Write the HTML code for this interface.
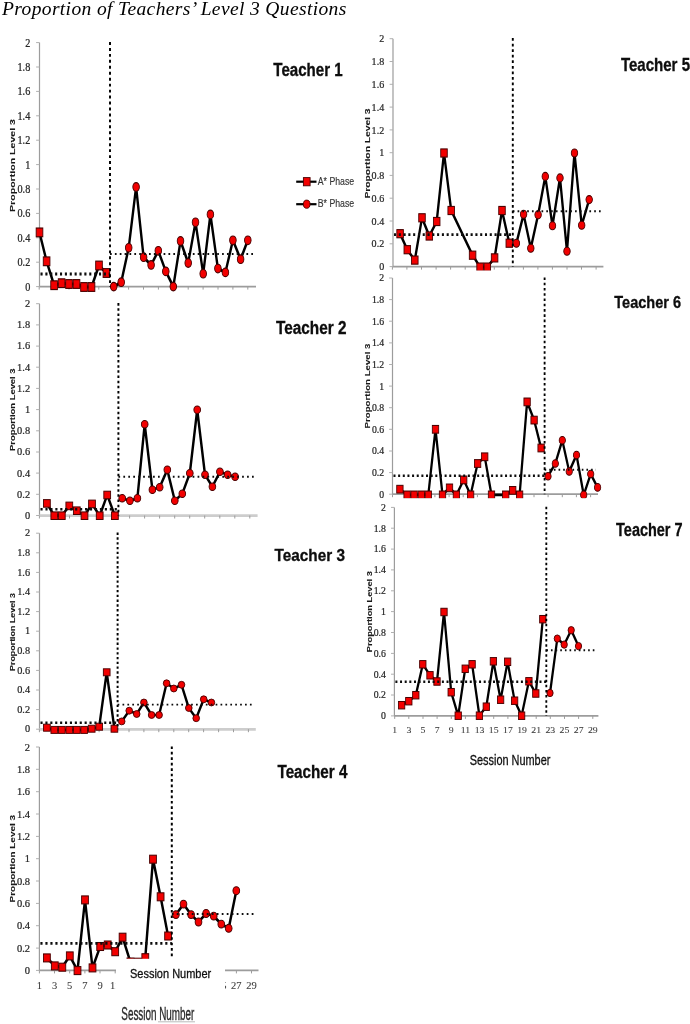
<!DOCTYPE html>
<html lang="en">
<head>
<meta charset="utf-8">
<title>Proportion of Teachers’ Level 3 Questions</title>
<style>
html,body{margin:0;padding:0;background:#fff;}
body{width:690px;height:1024px;overflow:hidden;position:relative;font-family:"Liberation Sans",sans-serif;}
h1{position:absolute;left:2px;top:-2.2px;margin:0;font:italic 19.5px "Liberation Serif",serif;color:#000;white-space:nowrap;letter-spacing:0.37px;}
svg{position:absolute;left:0;top:0;}
svg text{font-family:"Liberation Sans",sans-serif;}
svg text.tk{font-family:"Liberation Serif",serif;stroke:#262626;stroke-width:0.22;}
svg text.xk{font-family:"Liberation Serif",serif;stroke:#3c3c3c;stroke-width:0.1;}
.sn{stroke:#111;stroke-width:0.3;}
.sn2{stroke:#2a2a2a;stroke-width:0.35;}
svg text.yl{stroke:#1a1a1a;stroke-width:0.1;}
.dot{stroke:#111;stroke-width:2;stroke-dasharray:2 2.6;fill:none;}
.ln{stroke:#000;stroke-width:2.4;fill:none;stroke-linejoin:round;}
.dh{stroke:#0a0a0a;fill:none;stroke-width:2.3;stroke-dasharray:2.1 2.8;}
.dhb{stroke:#0a0a0a;fill:none;stroke-width:1.7;stroke-dasharray:1.7 3.2;}
.dv{stroke:#000;fill:none;stroke-width:1.95;stroke-dasharray:2.25 2.33;}
.mk{fill:#f20000;stroke:#4a0000;stroke-width:0.9;}
</style>
</head>
<body>
<h1>Proportion of Teachers’ Level 3 Questions</h1>
<svg width="690" height="1024" viewBox="0 0 690 1024">
<defs><filter id="b" x="-5%" y="-5%" width="110%" height="110%"><feGaussianBlur stdDeviation="0.5"/></filter></defs>
<g filter="url(#b)">
<g id="c1">
<line x1="39.5" y1="42.6" x2="39.5" y2="286.6" stroke="#9c9c9c" stroke-width="1.2"/>
<line x1="36.1" y1="42.6" x2="39.5" y2="42.6" stroke="#b0b0b0" stroke-width="1"/>
<text transform="translate(30.3,46.53) scale(0.994,1.130)" text-anchor="end" font-size="10.3" fill="#262626" class="tk">2</text>
<line x1="36.1" y1="67" x2="39.5" y2="67" stroke="#b0b0b0" stroke-width="1"/>
<text transform="translate(30.3,70.93) scale(0.994,1.130)" text-anchor="end" font-size="10.3" fill="#262626" class="tk">1.8</text>
<line x1="36.1" y1="91.4" x2="39.5" y2="91.4" stroke="#b0b0b0" stroke-width="1"/>
<text transform="translate(30.3,95.33) scale(0.994,1.130)" text-anchor="end" font-size="10.3" fill="#262626" class="tk">1.6</text>
<line x1="36.1" y1="115.8" x2="39.5" y2="115.8" stroke="#b0b0b0" stroke-width="1"/>
<text transform="translate(30.3,119.73) scale(0.994,1.130)" text-anchor="end" font-size="10.3" fill="#262626" class="tk">1.4</text>
<line x1="36.1" y1="140.2" x2="39.5" y2="140.2" stroke="#b0b0b0" stroke-width="1"/>
<text transform="translate(30.3,144.13) scale(0.994,1.130)" text-anchor="end" font-size="10.3" fill="#262626" class="tk">1.2</text>
<line x1="36.1" y1="164.6" x2="39.5" y2="164.6" stroke="#b0b0b0" stroke-width="1"/>
<text transform="translate(30.3,168.53) scale(0.994,1.130)" text-anchor="end" font-size="10.3" fill="#262626" class="tk">1</text>
<line x1="36.1" y1="189" x2="39.5" y2="189" stroke="#b0b0b0" stroke-width="1"/>
<text transform="translate(30.3,192.93) scale(0.994,1.130)" text-anchor="end" font-size="10.3" fill="#262626" class="tk">0.8</text>
<line x1="36.1" y1="213.4" x2="39.5" y2="213.4" stroke="#b0b0b0" stroke-width="1"/>
<text transform="translate(30.3,217.33) scale(0.994,1.130)" text-anchor="end" font-size="10.3" fill="#262626" class="tk">0.6</text>
<line x1="36.1" y1="237.8" x2="39.5" y2="237.8" stroke="#b0b0b0" stroke-width="1"/>
<text transform="translate(30.3,241.73) scale(0.994,1.130)" text-anchor="end" font-size="10.3" fill="#262626" class="tk">0.4</text>
<line x1="36.1" y1="262.2" x2="39.5" y2="262.2" stroke="#b0b0b0" stroke-width="1"/>
<text transform="translate(30.3,266.13) scale(0.994,1.130)" text-anchor="end" font-size="10.3" fill="#262626" class="tk">0.2</text>
<line x1="36.1" y1="286.6" x2="39.5" y2="286.6" stroke="#b0b0b0" stroke-width="1"/>
<text transform="translate(30.3,290.53) scale(0.994,1.130)" text-anchor="end" font-size="10.3" fill="#262626" class="tk">0</text>
<line x1="39.5" y1="286.6" x2="256" y2="286.6" stroke="#9c9c9c" stroke-width="1.7"/>
<line x1="39.2" y1="286.6" x2="39.2" y2="289.6" stroke="#9c9c9c" stroke-width="1"/>
<line x1="54.1" y1="286.6" x2="54.1" y2="289.6" stroke="#9c9c9c" stroke-width="1"/>
<line x1="69" y1="286.6" x2="69" y2="289.6" stroke="#9c9c9c" stroke-width="1"/>
<line x1="83.9" y1="286.6" x2="83.9" y2="289.6" stroke="#9c9c9c" stroke-width="1"/>
<line x1="98.8" y1="286.6" x2="98.8" y2="289.6" stroke="#9c9c9c" stroke-width="1"/>
<line x1="113.7" y1="286.6" x2="113.7" y2="289.6" stroke="#9c9c9c" stroke-width="1"/>
<line x1="128.6" y1="286.6" x2="128.6" y2="289.6" stroke="#9c9c9c" stroke-width="1"/>
<line x1="143.5" y1="286.6" x2="143.5" y2="289.6" stroke="#9c9c9c" stroke-width="1"/>
<line x1="158.4" y1="286.6" x2="158.4" y2="289.6" stroke="#9c9c9c" stroke-width="1"/>
<line x1="173.3" y1="286.6" x2="173.3" y2="289.6" stroke="#9c9c9c" stroke-width="1"/>
<line x1="188.2" y1="286.6" x2="188.2" y2="289.6" stroke="#9c9c9c" stroke-width="1"/>
<line x1="203.1" y1="286.6" x2="203.1" y2="289.6" stroke="#9c9c9c" stroke-width="1"/>
<line x1="218" y1="286.6" x2="218" y2="289.6" stroke="#9c9c9c" stroke-width="1"/>
<line x1="232.9" y1="286.6" x2="232.9" y2="289.6" stroke="#9c9c9c" stroke-width="1"/>
<line x1="247.8" y1="286.6" x2="247.8" y2="289.6" stroke="#9c9c9c" stroke-width="1"/>
<text transform="translate(15.3,165.5) rotate(-90) scale(1.000,0.994)" text-anchor="middle" font-size="7.8" font-weight="bold" fill="#1a1a1a" textLength="93" lengthAdjust="spacingAndGlyphs" class="yl">Proportion Level 3</text>
<g transform="translate(39.5,286.6) scale(0.9945,1.3000)">
<polyline points="0,-41.69 7.14,-19.46 14.68,-1.08 22.22,-2.62 29.66,-2 37.21,-2 44.75,0.31 52.29,0.31 59.83,-16.23 67.27,-10.46" class="ln"/>
<polyline points="74.61,0 82.16,-3.38 89.7,-29.85 97.14,-76.62 104.68,-22.62 112.22,-16.62 119.46,-27.54 127,-11.69 134.55,0 141.79,-35.08 149.53,-18.15 156.87,-49.46 164.61,-9.92 171.85,-55.54 179.39,-13.92 186.94,-10.92 194.48,-35.62 202.22,-21.08 209.46,-35.62" class="ln"/>
<rect x="-3.35" y="-45.04" width="6.7" height="6.7" class="mk"/>
<rect x="3.79" y="-22.81" width="6.7" height="6.7" class="mk"/>
<rect x="11.33" y="-4.43" width="6.7" height="6.7" class="mk"/>
<rect x="18.87" y="-5.97" width="6.7" height="6.7" class="mk"/>
<rect x="26.31" y="-5.35" width="6.7" height="6.7" class="mk"/>
<rect x="33.86" y="-5.35" width="6.7" height="6.7" class="mk"/>
<rect x="41.4" y="-3.04" width="6.7" height="6.7" class="mk"/>
<rect x="48.94" y="-3.04" width="6.7" height="6.7" class="mk"/>
<rect x="56.48" y="-19.58" width="6.7" height="6.7" class="mk"/>
<rect x="63.92" y="-13.81" width="6.7" height="6.7" class="mk"/>
<circle cx="74.61" cy="0" r="3.3" class="mk"/>
<circle cx="82.16" cy="-3.38" r="3.3" class="mk"/>
<circle cx="89.7" cy="-29.85" r="3.3" class="mk"/>
<circle cx="97.14" cy="-76.62" r="3.3" class="mk"/>
<circle cx="104.68" cy="-22.62" r="3.3" class="mk"/>
<circle cx="112.22" cy="-16.62" r="3.3" class="mk"/>
<circle cx="119.46" cy="-27.54" r="3.3" class="mk"/>
<circle cx="127" cy="-11.69" r="3.3" class="mk"/>
<circle cx="134.55" cy="0" r="3.3" class="mk"/>
<circle cx="141.79" cy="-35.08" r="3.3" class="mk"/>
<circle cx="149.53" cy="-18.15" r="3.3" class="mk"/>
<circle cx="156.87" cy="-49.46" r="3.3" class="mk"/>
<circle cx="164.61" cy="-9.92" r="3.3" class="mk"/>
<circle cx="171.85" cy="-55.54" r="3.3" class="mk"/>
<circle cx="179.39" cy="-13.92" r="3.3" class="mk"/>
<circle cx="186.94" cy="-10.92" r="3.3" class="mk"/>
<circle cx="194.48" cy="-35.62" r="3.3" class="mk"/>
<circle cx="202.22" cy="-21.08" r="3.3" class="mk"/>
<circle cx="209.46" cy="-35.62" r="3.3" class="mk"/>
<line x1="1.01" y1="-9.69" x2="70.89" y2="-9.69" class="dh"/>
<line x1="70.89" y1="-25.08" x2="217.71" y2="-25.08" class="dhb"/>
<line x1="70.89" y1="-188.15" x2="70.89" y2="0" class="dv"/>
</g>
</g>
<g id="c2">
<rect x="0" y="292" width="352" height="226.5" fill="#fff"/>
<line x1="39.5" y1="303.7" x2="39.5" y2="515.5" stroke="#9c9c9c" stroke-width="1.2"/>
<line x1="36.1" y1="303.7" x2="39.5" y2="303.7" stroke="#b0b0b0" stroke-width="1"/>
<text transform="translate(30.1,307.11) scale(1.010,0.981)" text-anchor="end" font-size="10.3" fill="#262626" class="tk">2</text>
<line x1="36.1" y1="324.9" x2="39.5" y2="324.9" stroke="#b0b0b0" stroke-width="1"/>
<text transform="translate(30.1,328.29) scale(1.010,0.981)" text-anchor="end" font-size="10.3" fill="#262626" class="tk">1.8</text>
<line x1="36.1" y1="346.1" x2="39.5" y2="346.1" stroke="#b0b0b0" stroke-width="1"/>
<text transform="translate(30.1,349.47) scale(1.010,0.981)" text-anchor="end" font-size="10.3" fill="#262626" class="tk">1.6</text>
<line x1="36.1" y1="367.2" x2="39.5" y2="367.2" stroke="#b0b0b0" stroke-width="1"/>
<text transform="translate(30.1,370.65) scale(1.010,0.981)" text-anchor="end" font-size="10.3" fill="#262626" class="tk">1.4</text>
<line x1="36.1" y1="388.4" x2="39.5" y2="388.4" stroke="#b0b0b0" stroke-width="1"/>
<text transform="translate(30.1,391.83) scale(1.010,0.981)" text-anchor="end" font-size="10.3" fill="#262626" class="tk">1.2</text>
<line x1="36.1" y1="409.6" x2="39.5" y2="409.6" stroke="#b0b0b0" stroke-width="1"/>
<text transform="translate(30.1,413.01) scale(1.010,0.981)" text-anchor="end" font-size="10.3" fill="#262626" class="tk">1</text>
<line x1="36.1" y1="430.8" x2="39.5" y2="430.8" stroke="#b0b0b0" stroke-width="1"/>
<text transform="translate(30.1,434.19) scale(1.010,0.981)" text-anchor="end" font-size="10.3" fill="#262626" class="tk">0.8</text>
<line x1="36.1" y1="452" x2="39.5" y2="452" stroke="#b0b0b0" stroke-width="1"/>
<text transform="translate(30.1,455.37) scale(1.010,0.981)" text-anchor="end" font-size="10.3" fill="#262626" class="tk">0.6</text>
<line x1="36.1" y1="473.1" x2="39.5" y2="473.1" stroke="#b0b0b0" stroke-width="1"/>
<text transform="translate(30.1,476.55) scale(1.010,0.981)" text-anchor="end" font-size="10.3" fill="#262626" class="tk">0.4</text>
<line x1="36.1" y1="494.3" x2="39.5" y2="494.3" stroke="#b0b0b0" stroke-width="1"/>
<text transform="translate(30.1,497.73) scale(1.010,0.981)" text-anchor="end" font-size="10.3" fill="#262626" class="tk">0.2</text>
<line x1="36.1" y1="515.5" x2="39.5" y2="515.5" stroke="#b0b0b0" stroke-width="1"/>
<text transform="translate(30.1,518.91) scale(1.010,0.981)" text-anchor="end" font-size="10.3" fill="#262626" class="tk">0</text>
<line x1="39.5" y1="515.7" x2="257.6" y2="515.7" stroke="#cdcdcd" stroke-width="2.7"/>
<line x1="39.4" y1="515.5" x2="39.4" y2="518.5" stroke="#9c9c9c" stroke-width="1"/>
<line x1="54.4" y1="515.5" x2="54.4" y2="518.5" stroke="#9c9c9c" stroke-width="1"/>
<line x1="69.5" y1="515.5" x2="69.5" y2="518.5" stroke="#9c9c9c" stroke-width="1"/>
<line x1="84.5" y1="515.5" x2="84.5" y2="518.5" stroke="#9c9c9c" stroke-width="1"/>
<line x1="99.5" y1="515.5" x2="99.5" y2="518.5" stroke="#9c9c9c" stroke-width="1"/>
<line x1="114.5" y1="515.5" x2="114.5" y2="518.5" stroke="#9c9c9c" stroke-width="1"/>
<line x1="129.6" y1="515.5" x2="129.6" y2="518.5" stroke="#9c9c9c" stroke-width="1"/>
<line x1="144.6" y1="515.5" x2="144.6" y2="518.5" stroke="#9c9c9c" stroke-width="1"/>
<line x1="159.6" y1="515.5" x2="159.6" y2="518.5" stroke="#9c9c9c" stroke-width="1"/>
<line x1="174.7" y1="515.5" x2="174.7" y2="518.5" stroke="#9c9c9c" stroke-width="1"/>
<line x1="189.7" y1="515.5" x2="189.7" y2="518.5" stroke="#9c9c9c" stroke-width="1"/>
<line x1="204.7" y1="515.5" x2="204.7" y2="518.5" stroke="#9c9c9c" stroke-width="1"/>
<line x1="219.8" y1="515.5" x2="219.8" y2="518.5" stroke="#9c9c9c" stroke-width="1"/>
<line x1="234.8" y1="515.5" x2="234.8" y2="518.5" stroke="#9c9c9c" stroke-width="1"/>
<line x1="249.8" y1="515.5" x2="249.8" y2="518.5" stroke="#9c9c9c" stroke-width="1"/>
<text transform="translate(15.3,409.7) rotate(-90) scale(0.868,1.010)" text-anchor="middle" font-size="7.8" font-weight="bold" fill="#1a1a1a" textLength="95" lengthAdjust="spacingAndGlyphs" class="yl">Proportion Level 3</text>
<g transform="translate(39.5,515.5) scale(1.0098,1.1284)">
<polyline points="7.33,-10.72 14.66,0.18 22.08,0.18 29.51,-8.51 36.94,-4.25 44.57,0.18 51.99,-10.28 59.62,0.18 67.05,-18.17 74.67,0.18" class="ln"/>
<polyline points="81.9,-15.33 89.53,-13.12 96.95,-15.33 104.18,-80.91 111.81,-22.86 119.04,-25.08 126.57,-40.5 133.99,-13.12 141.42,-19.32 148.85,-37.4 156.18,-93.76 163.9,-36.07 171.23,-25.52 178.66,-38.73 186.28,-36.07 193.71,-34.3" class="ln"/>
<rect x="3.98" y="-14.07" width="6.7" height="6.7" class="mk"/>
<rect x="11.31" y="-3.17" width="6.7" height="6.7" class="mk"/>
<rect x="18.73" y="-3.17" width="6.7" height="6.7" class="mk"/>
<rect x="26.16" y="-11.86" width="6.7" height="6.7" class="mk"/>
<rect x="33.59" y="-7.6" width="6.7" height="6.7" class="mk"/>
<rect x="41.22" y="-3.17" width="6.7" height="6.7" class="mk"/>
<rect x="48.64" y="-13.63" width="6.7" height="6.7" class="mk"/>
<rect x="56.27" y="-3.17" width="6.7" height="6.7" class="mk"/>
<rect x="63.7" y="-21.52" width="6.7" height="6.7" class="mk"/>
<rect x="71.32" y="-3.17" width="6.7" height="6.7" class="mk"/>
<circle cx="81.9" cy="-15.33" r="3.3" class="mk"/>
<circle cx="89.53" cy="-13.12" r="3.3" class="mk"/>
<circle cx="96.95" cy="-15.33" r="3.3" class="mk"/>
<circle cx="104.18" cy="-80.91" r="3.3" class="mk"/>
<circle cx="111.81" cy="-22.86" r="3.3" class="mk"/>
<circle cx="119.04" cy="-25.08" r="3.3" class="mk"/>
<circle cx="126.57" cy="-40.5" r="3.3" class="mk"/>
<circle cx="133.99" cy="-13.12" r="3.3" class="mk"/>
<circle cx="141.42" cy="-19.32" r="3.3" class="mk"/>
<circle cx="148.85" cy="-37.4" r="3.3" class="mk"/>
<circle cx="156.18" cy="-93.76" r="3.3" class="mk"/>
<circle cx="163.9" cy="-36.07" r="3.3" class="mk"/>
<circle cx="171.23" cy="-25.52" r="3.3" class="mk"/>
<circle cx="178.66" cy="-38.73" r="3.3" class="mk"/>
<circle cx="186.28" cy="-36.07" r="3.3" class="mk"/>
<circle cx="193.71" cy="-34.3" r="3.3" class="mk"/>
<line x1="0.99" y1="-5.58" x2="78.14" y2="-5.58" class="dh"/>
<line x1="78.14" y1="-34.3" x2="214.21" y2="-34.3" class="dhb"/>
<line x1="78.14" y1="-188.22" x2="78.14" y2="0" class="dv"/>
</g>
</g>
<g id="c3">
<rect x="0" y="520" width="352" height="212.2" fill="#fff"/>
<line x1="39.5" y1="533.2" x2="39.5" y2="729.2" stroke="#9c9c9c" stroke-width="1.2"/>
<line x1="36.1" y1="533.2" x2="39.5" y2="533.2" stroke="#b0b0b0" stroke-width="1"/>
<text transform="translate(30.1,536.36) scale(1.000,0.908)" text-anchor="end" font-size="10.3" fill="#262626" class="tk">2</text>
<line x1="36.1" y1="552.8" x2="39.5" y2="552.8" stroke="#b0b0b0" stroke-width="1"/>
<text transform="translate(30.1,555.96) scale(1.000,0.908)" text-anchor="end" font-size="10.3" fill="#262626" class="tk">1.8</text>
<line x1="36.1" y1="572.4" x2="39.5" y2="572.4" stroke="#b0b0b0" stroke-width="1"/>
<text transform="translate(30.1,575.56) scale(1.000,0.908)" text-anchor="end" font-size="10.3" fill="#262626" class="tk">1.6</text>
<line x1="36.1" y1="592" x2="39.5" y2="592" stroke="#b0b0b0" stroke-width="1"/>
<text transform="translate(30.1,595.16) scale(1.000,0.908)" text-anchor="end" font-size="10.3" fill="#262626" class="tk">1.4</text>
<line x1="36.1" y1="611.6" x2="39.5" y2="611.6" stroke="#b0b0b0" stroke-width="1"/>
<text transform="translate(30.1,614.76) scale(1.000,0.908)" text-anchor="end" font-size="10.3" fill="#262626" class="tk">1.2</text>
<line x1="36.1" y1="631.2" x2="39.5" y2="631.2" stroke="#b0b0b0" stroke-width="1"/>
<text transform="translate(30.1,634.36) scale(1.000,0.908)" text-anchor="end" font-size="10.3" fill="#262626" class="tk">1</text>
<line x1="36.1" y1="650.8" x2="39.5" y2="650.8" stroke="#b0b0b0" stroke-width="1"/>
<text transform="translate(30.1,653.96) scale(1.000,0.908)" text-anchor="end" font-size="10.3" fill="#262626" class="tk">0.8</text>
<line x1="36.1" y1="670.4" x2="39.5" y2="670.4" stroke="#b0b0b0" stroke-width="1"/>
<text transform="translate(30.1,673.56) scale(1.000,0.908)" text-anchor="end" font-size="10.3" fill="#262626" class="tk">0.6</text>
<line x1="36.1" y1="690" x2="39.5" y2="690" stroke="#b0b0b0" stroke-width="1"/>
<text transform="translate(30.1,693.16) scale(1.000,0.908)" text-anchor="end" font-size="10.3" fill="#262626" class="tk">0.4</text>
<line x1="36.1" y1="709.6" x2="39.5" y2="709.6" stroke="#b0b0b0" stroke-width="1"/>
<text transform="translate(30.1,712.76) scale(1.000,0.908)" text-anchor="end" font-size="10.3" fill="#262626" class="tk">0.2</text>
<line x1="36.1" y1="729.2" x2="39.5" y2="729.2" stroke="#b0b0b0" stroke-width="1"/>
<text transform="translate(30.1,732.36) scale(1.000,0.908)" text-anchor="end" font-size="10.3" fill="#262626" class="tk">0</text>
<line x1="39.5" y1="729.4" x2="255.8" y2="729.4" stroke="#cdcdcd" stroke-width="2.7"/>
<line x1="39.4" y1="729.2" x2="39.4" y2="732.2" stroke="#9c9c9c" stroke-width="1"/>
<line x1="54.3" y1="729.2" x2="54.3" y2="732.2" stroke="#9c9c9c" stroke-width="1"/>
<line x1="69.3" y1="729.2" x2="69.3" y2="732.2" stroke="#9c9c9c" stroke-width="1"/>
<line x1="84.2" y1="729.2" x2="84.2" y2="732.2" stroke="#9c9c9c" stroke-width="1"/>
<line x1="99.1" y1="729.2" x2="99.1" y2="732.2" stroke="#9c9c9c" stroke-width="1"/>
<line x1="114.1" y1="729.2" x2="114.1" y2="732.2" stroke="#9c9c9c" stroke-width="1"/>
<line x1="129" y1="729.2" x2="129" y2="732.2" stroke="#9c9c9c" stroke-width="1"/>
<line x1="143.9" y1="729.2" x2="143.9" y2="732.2" stroke="#9c9c9c" stroke-width="1"/>
<line x1="158.8" y1="729.2" x2="158.8" y2="732.2" stroke="#9c9c9c" stroke-width="1"/>
<line x1="173.8" y1="729.2" x2="173.8" y2="732.2" stroke="#9c9c9c" stroke-width="1"/>
<line x1="188.7" y1="729.2" x2="188.7" y2="732.2" stroke="#9c9c9c" stroke-width="1"/>
<line x1="203.6" y1="729.2" x2="203.6" y2="732.2" stroke="#9c9c9c" stroke-width="1"/>
<line x1="218.6" y1="729.2" x2="218.6" y2="732.2" stroke="#9c9c9c" stroke-width="1"/>
<line x1="233.5" y1="729.2" x2="233.5" y2="732.2" stroke="#9c9c9c" stroke-width="1"/>
<line x1="248.4" y1="729.2" x2="248.4" y2="732.2" stroke="#9c9c9c" stroke-width="1"/>
<text transform="translate(15.3,632) rotate(-90) scale(0.803,1.000)" text-anchor="middle" font-size="7.8" font-weight="bold" fill="#1a1a1a" textLength="97.1" lengthAdjust="spacingAndGlyphs" class="yl">Proportion Level 3</text>
<g transform="translate(39.5,729.2) scale(1.0002,1.0443)">
<polyline points="7.4,-1.44 14.8,0.67 22.3,0.67 29.79,0.67 37.29,0.67 44.69,0.67 52.19,-0.48 59.69,-2.39 67.19,-54.49 74.89,-0.48" class="ln"/>
<polyline points="82.18,-7.47 89.68,-17.72 97.18,-14.56 104.38,-25.57 112.08,-13.6 119.58,-13.6 127.08,-43.95 134.27,-38.97 141.97,-42.52 149.27,-20.3 156.67,-10.53 164.17,-28.63 171.87,-25.57" class="ln"/>
<rect x="4.05" y="-4.79" width="6.7" height="6.7" class="mk"/>
<rect x="11.45" y="-2.68" width="6.7" height="6.7" class="mk"/>
<rect x="18.95" y="-2.68" width="6.7" height="6.7" class="mk"/>
<rect x="26.44" y="-2.68" width="6.7" height="6.7" class="mk"/>
<rect x="33.94" y="-2.68" width="6.7" height="6.7" class="mk"/>
<rect x="41.34" y="-2.68" width="6.7" height="6.7" class="mk"/>
<rect x="48.84" y="-3.83" width="6.7" height="6.7" class="mk"/>
<rect x="56.34" y="-5.74" width="6.7" height="6.7" class="mk"/>
<rect x="63.84" y="-57.84" width="6.7" height="6.7" class="mk"/>
<rect x="71.54" y="-3.83" width="6.7" height="6.7" class="mk"/>
<circle cx="82.18" cy="-7.47" r="3.3" class="mk"/>
<circle cx="89.68" cy="-17.72" r="3.3" class="mk"/>
<circle cx="97.18" cy="-14.56" r="3.3" class="mk"/>
<circle cx="104.38" cy="-25.57" r="3.3" class="mk"/>
<circle cx="112.08" cy="-13.6" r="3.3" class="mk"/>
<circle cx="119.58" cy="-13.6" r="3.3" class="mk"/>
<circle cx="127.08" cy="-43.95" r="3.3" class="mk"/>
<circle cx="134.27" cy="-38.97" r="3.3" class="mk"/>
<circle cx="141.97" cy="-42.52" r="3.3" class="mk"/>
<circle cx="149.27" cy="-20.3" r="3.3" class="mk"/>
<circle cx="156.67" cy="-10.53" r="3.3" class="mk"/>
<circle cx="164.17" cy="-28.63" r="3.3" class="mk"/>
<circle cx="171.87" cy="-25.57" r="3.3" class="mk"/>
<line x1="1" y1="-6.22" x2="78.09" y2="-6.22" class="dh"/>
<line x1="78.09" y1="-23.46" x2="215.06" y2="-23.46" class="dhb"/>
<line x1="78.09" y1="-188.27" x2="78.09" y2="0" class="dv"/>
</g>
</g>
<g id="c4">
<rect x="0" y="742" width="352" height="231.4" fill="#fff"/>
<line x1="39.4" y1="747" x2="39.4" y2="970.4" stroke="#9c9c9c" stroke-width="1.2"/>
<line x1="36" y1="747" x2="39.4" y2="747" stroke="#b0b0b0" stroke-width="1"/>
<text transform="translate(30.1,750.6) scale(1.019,1.035)" text-anchor="end" font-size="10.3" fill="#262626" class="tk">2</text>
<line x1="36" y1="769.3" x2="39.4" y2="769.3" stroke="#b0b0b0" stroke-width="1"/>
<text transform="translate(30.1,772.94) scale(1.019,1.035)" text-anchor="end" font-size="10.3" fill="#262626" class="tk">1.8</text>
<line x1="36" y1="791.7" x2="39.4" y2="791.7" stroke="#b0b0b0" stroke-width="1"/>
<text transform="translate(30.1,795.28) scale(1.019,1.035)" text-anchor="end" font-size="10.3" fill="#262626" class="tk">1.6</text>
<line x1="36" y1="814" x2="39.4" y2="814" stroke="#b0b0b0" stroke-width="1"/>
<text transform="translate(30.1,817.62) scale(1.019,1.035)" text-anchor="end" font-size="10.3" fill="#262626" class="tk">1.4</text>
<line x1="36" y1="836.4" x2="39.4" y2="836.4" stroke="#b0b0b0" stroke-width="1"/>
<text transform="translate(30.1,839.96) scale(1.019,1.035)" text-anchor="end" font-size="10.3" fill="#262626" class="tk">1.2</text>
<line x1="36" y1="858.7" x2="39.4" y2="858.7" stroke="#b0b0b0" stroke-width="1"/>
<text transform="translate(30.1,862.3) scale(1.019,1.035)" text-anchor="end" font-size="10.3" fill="#262626" class="tk">1</text>
<line x1="36" y1="881" x2="39.4" y2="881" stroke="#b0b0b0" stroke-width="1"/>
<text transform="translate(30.1,884.64) scale(1.019,1.035)" text-anchor="end" font-size="10.3" fill="#262626" class="tk">0.8</text>
<line x1="36" y1="903.4" x2="39.4" y2="903.4" stroke="#b0b0b0" stroke-width="1"/>
<text transform="translate(30.1,906.98) scale(1.019,1.035)" text-anchor="end" font-size="10.3" fill="#262626" class="tk">0.6</text>
<line x1="36" y1="925.7" x2="39.4" y2="925.7" stroke="#b0b0b0" stroke-width="1"/>
<text transform="translate(30.1,929.32) scale(1.019,1.035)" text-anchor="end" font-size="10.3" fill="#262626" class="tk">0.4</text>
<line x1="36" y1="948.1" x2="39.4" y2="948.1" stroke="#b0b0b0" stroke-width="1"/>
<text transform="translate(30.1,951.66) scale(1.019,1.035)" text-anchor="end" font-size="10.3" fill="#262626" class="tk">0.2</text>
<line x1="36" y1="970.4" x2="39.4" y2="970.4" stroke="#b0b0b0" stroke-width="1"/>
<text transform="translate(30.1,974) scale(1.019,1.035)" text-anchor="end" font-size="10.3" fill="#262626" class="tk">0</text>
<line x1="39.4" y1="970.4" x2="258.5" y2="970.4" stroke="#9c9c9c" stroke-width="1.7"/>
<line x1="39.4" y1="970.4" x2="39.4" y2="973.4" stroke="#9c9c9c" stroke-width="1"/>
<line x1="54.5" y1="970.4" x2="54.5" y2="973.4" stroke="#9c9c9c" stroke-width="1"/>
<line x1="69.7" y1="970.4" x2="69.7" y2="973.4" stroke="#9c9c9c" stroke-width="1"/>
<line x1="84.9" y1="970.4" x2="84.9" y2="973.4" stroke="#9c9c9c" stroke-width="1"/>
<line x1="100" y1="970.4" x2="100" y2="973.4" stroke="#9c9c9c" stroke-width="1"/>
<line x1="115.2" y1="970.4" x2="115.2" y2="973.4" stroke="#9c9c9c" stroke-width="1"/>
<line x1="130.3" y1="970.4" x2="130.3" y2="973.4" stroke="#9c9c9c" stroke-width="1"/>
<line x1="145.5" y1="970.4" x2="145.5" y2="973.4" stroke="#9c9c9c" stroke-width="1"/>
<line x1="160.6" y1="970.4" x2="160.6" y2="973.4" stroke="#9c9c9c" stroke-width="1"/>
<line x1="175.8" y1="970.4" x2="175.8" y2="973.4" stroke="#9c9c9c" stroke-width="1"/>
<line x1="190.9" y1="970.4" x2="190.9" y2="973.4" stroke="#9c9c9c" stroke-width="1"/>
<line x1="206.1" y1="970.4" x2="206.1" y2="973.4" stroke="#9c9c9c" stroke-width="1"/>
<line x1="221.2" y1="970.4" x2="221.2" y2="973.4" stroke="#9c9c9c" stroke-width="1"/>
<line x1="236.4" y1="970.4" x2="236.4" y2="973.4" stroke="#9c9c9c" stroke-width="1"/>
<line x1="251.5" y1="970.4" x2="251.5" y2="973.4" stroke="#9c9c9c" stroke-width="1"/>
<text transform="translate(39.4,989.3) scale(1.019,0.916)" text-anchor="middle" font-size="10.3" fill="#3c3c3c" class="xk">1</text>
<text transform="translate(54.55,989.3) scale(1.019,0.916)" text-anchor="middle" font-size="10.3" fill="#3c3c3c" class="xk">3</text>
<text transform="translate(69.7,989.3) scale(1.019,0.916)" text-anchor="middle" font-size="10.3" fill="#3c3c3c" class="xk">5</text>
<text transform="translate(84.85,989.3) scale(1.019,0.916)" text-anchor="middle" font-size="10.3" fill="#3c3c3c" class="xk">7</text>
<text transform="translate(100,989.3) scale(1.019,0.916)" text-anchor="middle" font-size="10.3" fill="#3c3c3c" class="xk">9</text>
<text transform="translate(115.15,989.3) scale(1.019,0.916)" text-anchor="middle" font-size="10.3" fill="#3c3c3c" class="xk">11</text>
<text transform="translate(130.3,989.3) scale(1.019,0.916)" text-anchor="middle" font-size="10.3" fill="#3c3c3c" class="xk">13</text>
<text transform="translate(145.45,989.3) scale(1.019,0.916)" text-anchor="middle" font-size="10.3" fill="#3c3c3c" class="xk">15</text>
<text transform="translate(160.6,989.3) scale(1.019,0.916)" text-anchor="middle" font-size="10.3" fill="#3c3c3c" class="xk">17</text>
<text transform="translate(175.75,989.3) scale(1.019,0.916)" text-anchor="middle" font-size="10.3" fill="#3c3c3c" class="xk">19</text>
<text transform="translate(190.9,989.3) scale(1.019,0.916)" text-anchor="middle" font-size="10.3" fill="#3c3c3c" class="xk">21</text>
<text transform="translate(206.05,989.3) scale(1.019,0.916)" text-anchor="middle" font-size="10.3" fill="#3c3c3c" class="xk">23</text>
<text transform="translate(221.2,989.3) scale(1.019,0.916)" text-anchor="middle" font-size="10.3" fill="#3c3c3c" class="xk">25</text>
<text transform="translate(236.35,989.3) scale(1.019,0.916)" text-anchor="middle" font-size="10.3" fill="#3c3c3c" class="xk">27</text>
<text transform="translate(251.5,989.3) scale(1.019,0.916)" text-anchor="middle" font-size="10.3" fill="#3c3c3c" class="xk">29</text>
<text transform="translate(15.4,858.7) rotate(-90) scale(0.916,1.019)" text-anchor="middle" font-size="7.8" font-weight="bold" fill="#1a1a1a" textLength="95.6" lengthAdjust="spacingAndGlyphs" class="yl">Proportion Level 3</text>
<g transform="translate(39.4,970.4) scale(1.0193,1.1902)">
<polyline points="7.36,-10.5 15.11,-3.78 22.47,-2.69 29.82,-12.18 37.38,0.17 44.74,-59.23 52.09,-2.1 59.65,-20.08 67.01,-21.34 74.36,-15.71 81.62,-27.89 89.28,-7.06 96.63,-6.89 103.89,-10.67 111.45,-93.43 118.9,-61.84 126.26,-28.9" class="ln"/>
<polyline points="133.91,-46.88 141.37,-55.7 148.83,-46.88 156.09,-40.66 163.54,-47.81 171,-45.62 178.45,-38.9 185.71,-35.37 193.17,-66.96" class="ln"/>
<rect x="4.01" y="-13.85" width="6.7" height="6.7" class="mk"/>
<rect x="11.76" y="-7.13" width="6.7" height="6.7" class="mk"/>
<rect x="19.12" y="-6.04" width="6.7" height="6.7" class="mk"/>
<rect x="26.47" y="-15.53" width="6.7" height="6.7" class="mk"/>
<rect x="34.03" y="-3.18" width="6.7" height="6.7" class="mk"/>
<rect x="41.39" y="-62.58" width="6.7" height="6.7" class="mk"/>
<rect x="48.74" y="-5.45" width="6.7" height="6.7" class="mk"/>
<rect x="56.3" y="-23.43" width="6.7" height="6.7" class="mk"/>
<rect x="63.66" y="-24.69" width="6.7" height="6.7" class="mk"/>
<rect x="71.01" y="-19.06" width="6.7" height="6.7" class="mk"/>
<rect x="78.27" y="-31.24" width="6.7" height="6.7" class="mk"/>
<rect x="85.93" y="-10.41" width="6.7" height="6.7" class="mk"/>
<rect x="93.28" y="-10.24" width="6.7" height="6.7" class="mk"/>
<rect x="100.54" y="-14.02" width="6.7" height="6.7" class="mk"/>
<rect x="108.1" y="-96.78" width="6.7" height="6.7" class="mk"/>
<rect x="115.55" y="-65.19" width="6.7" height="6.7" class="mk"/>
<rect x="122.91" y="-32.25" width="6.7" height="6.7" class="mk"/>
<circle cx="133.91" cy="-46.88" r="3.3" class="mk"/>
<circle cx="141.37" cy="-55.7" r="3.3" class="mk"/>
<circle cx="148.83" cy="-46.88" r="3.3" class="mk"/>
<circle cx="156.09" cy="-40.66" r="3.3" class="mk"/>
<circle cx="163.54" cy="-47.81" r="3.3" class="mk"/>
<circle cx="171" cy="-45.62" r="3.3" class="mk"/>
<circle cx="178.45" cy="-38.9" r="3.3" class="mk"/>
<circle cx="185.71" cy="-35.37" r="3.3" class="mk"/>
<circle cx="193.17" cy="-66.96" r="3.3" class="mk"/>
<line x1="0.98" y1="-22.77" x2="129.89" y2="-22.77" class="dh"/>
<line x1="129.89" y1="-47.47" x2="212.4" y2="-47.47" class="dhb"/>
<line x1="129.89" y1="-188.2" x2="129.89" y2="0" class="dv"/>
</g>
</g>
<g id="c5">
<line x1="393" y1="38.7" x2="393" y2="266.6" stroke="#9c9c9c" stroke-width="1.2"/>
<line x1="389.6" y1="38.7" x2="393" y2="38.7" stroke="#b0b0b0" stroke-width="1"/>
<text transform="translate(384.2,42.37) scale(0.977,1.055)" text-anchor="end" font-size="10.3" fill="#262626" class="tk">2</text>
<line x1="389.6" y1="61.5" x2="393" y2="61.5" stroke="#b0b0b0" stroke-width="1"/>
<text transform="translate(384.2,65.16) scale(0.977,1.055)" text-anchor="end" font-size="10.3" fill="#262626" class="tk">1.8</text>
<line x1="389.6" y1="84.3" x2="393" y2="84.3" stroke="#b0b0b0" stroke-width="1"/>
<text transform="translate(384.2,87.95) scale(0.977,1.055)" text-anchor="end" font-size="10.3" fill="#262626" class="tk">1.6</text>
<line x1="389.6" y1="107.1" x2="393" y2="107.1" stroke="#b0b0b0" stroke-width="1"/>
<text transform="translate(384.2,110.74) scale(0.977,1.055)" text-anchor="end" font-size="10.3" fill="#262626" class="tk">1.4</text>
<line x1="389.6" y1="129.9" x2="393" y2="129.9" stroke="#b0b0b0" stroke-width="1"/>
<text transform="translate(384.2,133.53) scale(0.977,1.055)" text-anchor="end" font-size="10.3" fill="#262626" class="tk">1.2</text>
<line x1="389.6" y1="152.7" x2="393" y2="152.7" stroke="#b0b0b0" stroke-width="1"/>
<text transform="translate(384.2,156.32) scale(0.977,1.055)" text-anchor="end" font-size="10.3" fill="#262626" class="tk">1</text>
<line x1="389.6" y1="175.4" x2="393" y2="175.4" stroke="#b0b0b0" stroke-width="1"/>
<text transform="translate(384.2,179.11) scale(0.977,1.055)" text-anchor="end" font-size="10.3" fill="#262626" class="tk">0.8</text>
<line x1="389.6" y1="198.2" x2="393" y2="198.2" stroke="#b0b0b0" stroke-width="1"/>
<text transform="translate(384.2,201.9) scale(0.977,1.055)" text-anchor="end" font-size="10.3" fill="#262626" class="tk">0.6</text>
<line x1="389.6" y1="221" x2="393" y2="221" stroke="#b0b0b0" stroke-width="1"/>
<text transform="translate(384.2,224.69) scale(0.977,1.055)" text-anchor="end" font-size="10.3" fill="#262626" class="tk">0.4</text>
<line x1="389.6" y1="243.8" x2="393" y2="243.8" stroke="#b0b0b0" stroke-width="1"/>
<text transform="translate(384.2,247.48) scale(0.977,1.055)" text-anchor="end" font-size="10.3" fill="#262626" class="tk">0.2</text>
<line x1="389.6" y1="266.6" x2="393" y2="266.6" stroke="#b0b0b0" stroke-width="1"/>
<text transform="translate(384.2,270.27) scale(0.977,1.055)" text-anchor="end" font-size="10.3" fill="#262626" class="tk">0</text>
<line x1="393" y1="266.6" x2="603.4" y2="266.6" stroke="#9c9c9c" stroke-width="1.7"/>
<line x1="392.4" y1="266.6" x2="392.4" y2="269.6" stroke="#9c9c9c" stroke-width="1"/>
<line x1="406.9" y1="266.6" x2="406.9" y2="269.6" stroke="#9c9c9c" stroke-width="1"/>
<line x1="421.5" y1="266.6" x2="421.5" y2="269.6" stroke="#9c9c9c" stroke-width="1"/>
<line x1="436.1" y1="266.6" x2="436.1" y2="269.6" stroke="#9c9c9c" stroke-width="1"/>
<line x1="450.6" y1="266.6" x2="450.6" y2="269.6" stroke="#9c9c9c" stroke-width="1"/>
<line x1="465.2" y1="266.6" x2="465.2" y2="269.6" stroke="#9c9c9c" stroke-width="1"/>
<line x1="479.7" y1="266.6" x2="479.7" y2="269.6" stroke="#9c9c9c" stroke-width="1"/>
<line x1="494.3" y1="266.6" x2="494.3" y2="269.6" stroke="#9c9c9c" stroke-width="1"/>
<line x1="508.8" y1="266.6" x2="508.8" y2="269.6" stroke="#9c9c9c" stroke-width="1"/>
<line x1="523.4" y1="266.6" x2="523.4" y2="269.6" stroke="#9c9c9c" stroke-width="1"/>
<line x1="537.9" y1="266.6" x2="537.9" y2="269.6" stroke="#9c9c9c" stroke-width="1"/>
<line x1="552.4" y1="266.6" x2="552.4" y2="269.6" stroke="#9c9c9c" stroke-width="1"/>
<line x1="567" y1="266.6" x2="567" y2="269.6" stroke="#9c9c9c" stroke-width="1"/>
<line x1="581.5" y1="266.6" x2="581.5" y2="269.6" stroke="#9c9c9c" stroke-width="1"/>
<line x1="596.1" y1="266.6" x2="596.1" y2="269.6" stroke="#9c9c9c" stroke-width="1"/>
<text transform="translate(369.7,153.5) rotate(-90) scale(0.934,0.977)" text-anchor="middle" font-size="7.8" font-weight="bold" fill="#1a1a1a" textLength="96.4" lengthAdjust="spacingAndGlyphs" class="yl">Proportion Level 3</text>
<g transform="translate(393,266.6) scale(0.9772,1.2142)">
<polyline points="7.27,-27.1 14.63,-13.92 22.31,-5.35 29.68,-40.19 37.15,-25.2 44.72,-37.14 52.19,-93.56 59.56,-46.2 81.45,-9.39 89.13,0.41 96.5,0.41 103.97,-7.17 111.54,-46.2 119.01,-19.27" class="ln"/>
<polyline points="126.27,-19.27 133.64,-43.07 141.01,-15.15 148.48,-42.66 155.85,-74.29 163.21,-33.68 170.89,-73.05 178.05,-12.68 185.73,-93.56 193.09,-34.1 200.77,-55.18" class="ln"/>
<rect x="3.92" y="-30.45" width="6.7" height="6.7" class="mk"/>
<rect x="11.28" y="-17.27" width="6.7" height="6.7" class="mk"/>
<rect x="18.96" y="-8.7" width="6.7" height="6.7" class="mk"/>
<rect x="26.33" y="-43.54" width="6.7" height="6.7" class="mk"/>
<rect x="33.8" y="-28.55" width="6.7" height="6.7" class="mk"/>
<rect x="41.37" y="-40.49" width="6.7" height="6.7" class="mk"/>
<rect x="48.84" y="-96.91" width="6.7" height="6.7" class="mk"/>
<rect x="56.21" y="-49.55" width="6.7" height="6.7" class="mk"/>
<rect x="78.1" y="-12.74" width="6.7" height="6.7" class="mk"/>
<rect x="85.78" y="-2.94" width="6.7" height="6.7" class="mk"/>
<rect x="93.15" y="-2.94" width="6.7" height="6.7" class="mk"/>
<rect x="100.62" y="-10.52" width="6.7" height="6.7" class="mk"/>
<rect x="108.19" y="-49.55" width="6.7" height="6.7" class="mk"/>
<rect x="115.66" y="-22.62" width="6.7" height="6.7" class="mk"/>
<circle cx="126.27" cy="-19.27" r="3.3" class="mk"/>
<circle cx="133.64" cy="-43.07" r="3.3" class="mk"/>
<circle cx="141.01" cy="-15.15" r="3.3" class="mk"/>
<circle cx="148.48" cy="-42.66" r="3.3" class="mk"/>
<circle cx="155.85" cy="-74.29" r="3.3" class="mk"/>
<circle cx="163.21" cy="-33.68" r="3.3" class="mk"/>
<circle cx="170.89" cy="-73.05" r="3.3" class="mk"/>
<circle cx="178.05" cy="-12.68" r="3.3" class="mk"/>
<circle cx="185.73" cy="-93.56" r="3.3" class="mk"/>
<circle cx="193.09" cy="-34.1" r="3.3" class="mk"/>
<circle cx="200.77" cy="-55.18" r="3.3" class="mk"/>
<line x1="1.02" y1="-26.27" x2="122.59" y2="-26.27" class="dh"/>
<line x1="122.59" y1="-45.54" x2="215.3" y2="-45.54" class="dhb"/>
<line x1="122.59" y1="-188.19" x2="122.59" y2="0" class="dv"/>
</g>
</g>
<g id="c6">
<rect x="352" y="270.5" width="338" height="226.7" fill="#fff"/>
<line x1="392.5" y1="278" x2="392.5" y2="494.2" stroke="#9c9c9c" stroke-width="1.2"/>
<line x1="389.1" y1="278" x2="392.5" y2="278" stroke="#b0b0b0" stroke-width="1"/>
<text transform="translate(384.2,281.49) scale(0.949,1.001)" text-anchor="end" font-size="10.3" fill="#262626" class="tk">2</text>
<line x1="389.1" y1="299.6" x2="392.5" y2="299.6" stroke="#b0b0b0" stroke-width="1"/>
<text transform="translate(384.2,303.11) scale(0.949,1.001)" text-anchor="end" font-size="10.3" fill="#262626" class="tk">1.8</text>
<line x1="389.1" y1="321.2" x2="392.5" y2="321.2" stroke="#b0b0b0" stroke-width="1"/>
<text transform="translate(384.2,324.73) scale(0.949,1.001)" text-anchor="end" font-size="10.3" fill="#262626" class="tk">1.6</text>
<line x1="389.1" y1="342.9" x2="392.5" y2="342.9" stroke="#b0b0b0" stroke-width="1"/>
<text transform="translate(384.2,346.35) scale(0.949,1.001)" text-anchor="end" font-size="10.3" fill="#262626" class="tk">1.4</text>
<line x1="389.1" y1="364.5" x2="392.5" y2="364.5" stroke="#b0b0b0" stroke-width="1"/>
<text transform="translate(384.2,367.97) scale(0.949,1.001)" text-anchor="end" font-size="10.3" fill="#262626" class="tk">1.2</text>
<line x1="389.1" y1="386.1" x2="392.5" y2="386.1" stroke="#b0b0b0" stroke-width="1"/>
<text transform="translate(384.2,389.59) scale(0.949,1.001)" text-anchor="end" font-size="10.3" fill="#262626" class="tk">1</text>
<line x1="389.1" y1="407.7" x2="392.5" y2="407.7" stroke="#b0b0b0" stroke-width="1"/>
<text transform="translate(384.2,411.21) scale(0.949,1.001)" text-anchor="end" font-size="10.3" fill="#262626" class="tk">0.8</text>
<line x1="389.1" y1="429.3" x2="392.5" y2="429.3" stroke="#b0b0b0" stroke-width="1"/>
<text transform="translate(384.2,432.83) scale(0.949,1.001)" text-anchor="end" font-size="10.3" fill="#262626" class="tk">0.6</text>
<line x1="389.1" y1="451" x2="392.5" y2="451" stroke="#b0b0b0" stroke-width="1"/>
<text transform="translate(384.2,454.45) scale(0.949,1.001)" text-anchor="end" font-size="10.3" fill="#262626" class="tk">0.4</text>
<line x1="389.1" y1="472.6" x2="392.5" y2="472.6" stroke="#b0b0b0" stroke-width="1"/>
<text transform="translate(384.2,476.07) scale(0.949,1.001)" text-anchor="end" font-size="10.3" fill="#262626" class="tk">0.2</text>
<line x1="389.1" y1="494.2" x2="392.5" y2="494.2" stroke="#b0b0b0" stroke-width="1"/>
<text transform="translate(384.2,497.69) scale(0.949,1.001)" text-anchor="end" font-size="10.3" fill="#262626" class="tk">0</text>
<line x1="392.5" y1="494.2" x2="598" y2="494.2" stroke="#9c9c9c" stroke-width="1.7"/>
<line x1="392.5" y1="494.2" x2="392.5" y2="497.2" stroke="#9c9c9c" stroke-width="1"/>
<line x1="406.6" y1="494.2" x2="406.6" y2="497.2" stroke="#9c9c9c" stroke-width="1"/>
<line x1="420.8" y1="494.2" x2="420.8" y2="497.2" stroke="#9c9c9c" stroke-width="1"/>
<line x1="434.9" y1="494.2" x2="434.9" y2="497.2" stroke="#9c9c9c" stroke-width="1"/>
<line x1="449.1" y1="494.2" x2="449.1" y2="497.2" stroke="#9c9c9c" stroke-width="1"/>
<line x1="463.2" y1="494.2" x2="463.2" y2="497.2" stroke="#9c9c9c" stroke-width="1"/>
<line x1="477.4" y1="494.2" x2="477.4" y2="497.2" stroke="#9c9c9c" stroke-width="1"/>
<line x1="491.5" y1="494.2" x2="491.5" y2="497.2" stroke="#9c9c9c" stroke-width="1"/>
<line x1="505.7" y1="494.2" x2="505.7" y2="497.2" stroke="#9c9c9c" stroke-width="1"/>
<line x1="519.8" y1="494.2" x2="519.8" y2="497.2" stroke="#9c9c9c" stroke-width="1"/>
<line x1="534" y1="494.2" x2="534" y2="497.2" stroke="#9c9c9c" stroke-width="1"/>
<line x1="548.1" y1="494.2" x2="548.1" y2="497.2" stroke="#9c9c9c" stroke-width="1"/>
<line x1="562.3" y1="494.2" x2="562.3" y2="497.2" stroke="#9c9c9c" stroke-width="1"/>
<line x1="576.4" y1="494.2" x2="576.4" y2="497.2" stroke="#9c9c9c" stroke-width="1"/>
<line x1="590.6" y1="494.2" x2="590.6" y2="497.2" stroke="#9c9c9c" stroke-width="1"/>
<text transform="translate(369.7,386) rotate(-90) scale(0.886,0.949)" text-anchor="middle" font-size="7.8" font-weight="bold" fill="#1a1a1a" textLength="95.9" lengthAdjust="spacingAndGlyphs" class="yl">Proportion Level 3</text>
<g transform="translate(392.5,494.2) scale(0.9486,1.1519)">
<polyline points="7.8,-4.34 15.39,0.61 22.77,0.61 30.36,0.61 37.74,0.61 45.33,-56.34 52.71,0.61 60.09,-5.47 67.37,0.61 75.06,-12.41 82.34,0.61 89.72,-26.65 97.2,-32.47 104.37,0.61 119.34,0.61 126.72,-3.3 133.99,0.61 141.9,-80.13 149.28,-64.33 156.66,-40.11" class="ln"/>
<polyline points="163.93,-15.63 171.63,-26.65 179.01,-46.79 186.28,-19.71 193.98,-34.03 201.57,0.61 208.95,-17.54 216.22,-5.9" class="ln"/>
<rect x="4.45" y="-7.69" width="6.7" height="6.7" class="mk"/>
<rect x="12.04" y="-2.74" width="6.7" height="6.7" class="mk"/>
<rect x="19.42" y="-2.74" width="6.7" height="6.7" class="mk"/>
<rect x="27.01" y="-2.74" width="6.7" height="6.7" class="mk"/>
<rect x="34.39" y="-2.74" width="6.7" height="6.7" class="mk"/>
<rect x="41.98" y="-59.69" width="6.7" height="6.7" class="mk"/>
<rect x="49.36" y="-2.74" width="6.7" height="6.7" class="mk"/>
<rect x="56.74" y="-8.82" width="6.7" height="6.7" class="mk"/>
<rect x="64.02" y="-2.74" width="6.7" height="6.7" class="mk"/>
<rect x="71.71" y="-15.76" width="6.7" height="6.7" class="mk"/>
<rect x="78.99" y="-2.74" width="6.7" height="6.7" class="mk"/>
<rect x="86.37" y="-30" width="6.7" height="6.7" class="mk"/>
<rect x="93.85" y="-35.82" width="6.7" height="6.7" class="mk"/>
<rect x="101.02" y="-2.74" width="6.7" height="6.7" class="mk"/>
<rect x="115.99" y="-2.74" width="6.7" height="6.7" class="mk"/>
<rect x="123.37" y="-6.65" width="6.7" height="6.7" class="mk"/>
<rect x="130.64" y="-2.74" width="6.7" height="6.7" class="mk"/>
<rect x="138.55" y="-83.48" width="6.7" height="6.7" class="mk"/>
<rect x="145.93" y="-67.68" width="6.7" height="6.7" class="mk"/>
<rect x="153.31" y="-43.46" width="6.7" height="6.7" class="mk"/>
<circle cx="163.93" cy="-15.63" r="3.3" class="mk"/>
<circle cx="171.63" cy="-26.65" r="3.3" class="mk"/>
<circle cx="179.01" cy="-46.79" r="3.3" class="mk"/>
<circle cx="186.28" cy="-19.71" r="3.3" class="mk"/>
<circle cx="193.98" cy="-34.03" r="3.3" class="mk"/>
<circle cx="201.57" cy="0.61" r="3.3" class="mk"/>
<circle cx="208.95" cy="-17.54" r="3.3" class="mk"/>
<circle cx="216.22" cy="-5.9" r="3.3" class="mk"/>
<line x1="1.05" y1="-16.06" x2="160.35" y2="-16.06" class="dh"/>
<line x1="160.35" y1="-21.27" x2="214.43" y2="-21.27" class="dhb"/>
<line x1="160.35" y1="-188.21" x2="160.35" y2="0" class="dv"/>
</g>
</g>
<g id="c7">
<rect x="352" y="498.2" width="338" height="220.7" fill="#fff"/>
<line x1="394.4" y1="507.4" x2="394.4" y2="715.9" stroke="#9c9c9c" stroke-width="1.2"/>
<line x1="391" y1="507.4" x2="394.4" y2="507.4" stroke="#b0b0b0" stroke-width="1"/>
<text transform="translate(385.9,510.76) scale(0.949,0.966)" text-anchor="end" font-size="10.3" fill="#262626" class="tk">2</text>
<line x1="391" y1="528.2" x2="394.4" y2="528.2" stroke="#b0b0b0" stroke-width="1"/>
<text transform="translate(385.9,531.61) scale(0.949,0.966)" text-anchor="end" font-size="10.3" fill="#262626" class="tk">1.8</text>
<line x1="391" y1="549.1" x2="394.4" y2="549.1" stroke="#b0b0b0" stroke-width="1"/>
<text transform="translate(385.9,552.46) scale(0.949,0.966)" text-anchor="end" font-size="10.3" fill="#262626" class="tk">1.6</text>
<line x1="391" y1="569.9" x2="394.4" y2="569.9" stroke="#b0b0b0" stroke-width="1"/>
<text transform="translate(385.9,573.31) scale(0.949,0.966)" text-anchor="end" font-size="10.3" fill="#262626" class="tk">1.4</text>
<line x1="391" y1="590.8" x2="394.4" y2="590.8" stroke="#b0b0b0" stroke-width="1"/>
<text transform="translate(385.9,594.16) scale(0.949,0.966)" text-anchor="end" font-size="10.3" fill="#262626" class="tk">1.2</text>
<line x1="391" y1="611.6" x2="394.4" y2="611.6" stroke="#b0b0b0" stroke-width="1"/>
<text transform="translate(385.9,615.01) scale(0.949,0.966)" text-anchor="end" font-size="10.3" fill="#262626" class="tk">1</text>
<line x1="391" y1="632.5" x2="394.4" y2="632.5" stroke="#b0b0b0" stroke-width="1"/>
<text transform="translate(385.9,635.86) scale(0.949,0.966)" text-anchor="end" font-size="10.3" fill="#262626" class="tk">0.8</text>
<line x1="391" y1="653.4" x2="394.4" y2="653.4" stroke="#b0b0b0" stroke-width="1"/>
<text transform="translate(385.9,656.71) scale(0.949,0.966)" text-anchor="end" font-size="10.3" fill="#262626" class="tk">0.6</text>
<line x1="391" y1="674.2" x2="394.4" y2="674.2" stroke="#b0b0b0" stroke-width="1"/>
<text transform="translate(385.9,677.56) scale(0.949,0.966)" text-anchor="end" font-size="10.3" fill="#262626" class="tk">0.4</text>
<line x1="391" y1="695" x2="394.4" y2="695" stroke="#b0b0b0" stroke-width="1"/>
<text transform="translate(385.9,698.41) scale(0.949,0.966)" text-anchor="end" font-size="10.3" fill="#262626" class="tk">0.2</text>
<line x1="391" y1="715.9" x2="394.4" y2="715.9" stroke="#b0b0b0" stroke-width="1"/>
<text transform="translate(385.9,719.26) scale(0.949,0.966)" text-anchor="end" font-size="10.3" fill="#262626" class="tk">0</text>
<line x1="394.4" y1="715.9" x2="598.4" y2="715.9" stroke="#9c9c9c" stroke-width="1.7"/>
<line x1="394.7" y1="715.9" x2="394.7" y2="718.9" stroke="#9c9c9c" stroke-width="1"/>
<line x1="408.8" y1="715.9" x2="408.8" y2="718.9" stroke="#9c9c9c" stroke-width="1"/>
<line x1="423" y1="715.9" x2="423" y2="718.9" stroke="#9c9c9c" stroke-width="1"/>
<line x1="437.1" y1="715.9" x2="437.1" y2="718.9" stroke="#9c9c9c" stroke-width="1"/>
<line x1="451.3" y1="715.9" x2="451.3" y2="718.9" stroke="#9c9c9c" stroke-width="1"/>
<line x1="465.4" y1="715.9" x2="465.4" y2="718.9" stroke="#9c9c9c" stroke-width="1"/>
<line x1="479.6" y1="715.9" x2="479.6" y2="718.9" stroke="#9c9c9c" stroke-width="1"/>
<line x1="493.7" y1="715.9" x2="493.7" y2="718.9" stroke="#9c9c9c" stroke-width="1"/>
<line x1="507.9" y1="715.9" x2="507.9" y2="718.9" stroke="#9c9c9c" stroke-width="1"/>
<line x1="522" y1="715.9" x2="522" y2="718.9" stroke="#9c9c9c" stroke-width="1"/>
<line x1="536.2" y1="715.9" x2="536.2" y2="718.9" stroke="#9c9c9c" stroke-width="1"/>
<line x1="550.3" y1="715.9" x2="550.3" y2="718.9" stroke="#9c9c9c" stroke-width="1"/>
<line x1="564.5" y1="715.9" x2="564.5" y2="718.9" stroke="#9c9c9c" stroke-width="1"/>
<line x1="578.6" y1="715.9" x2="578.6" y2="718.9" stroke="#9c9c9c" stroke-width="1"/>
<line x1="592.8" y1="715.9" x2="592.8" y2="718.9" stroke="#9c9c9c" stroke-width="1"/>
<text transform="translate(394.7,733) scale(0.949,0.855)" text-anchor="middle" font-size="10.3" fill="#3c3c3c" class="xk">1</text>
<text transform="translate(408.85,733) scale(0.949,0.855)" text-anchor="middle" font-size="10.3" fill="#3c3c3c" class="xk">3</text>
<text transform="translate(423,733) scale(0.949,0.855)" text-anchor="middle" font-size="10.3" fill="#3c3c3c" class="xk">5</text>
<text transform="translate(437.15,733) scale(0.949,0.855)" text-anchor="middle" font-size="10.3" fill="#3c3c3c" class="xk">7</text>
<text transform="translate(451.3,733) scale(0.949,0.855)" text-anchor="middle" font-size="10.3" fill="#3c3c3c" class="xk">9</text>
<text transform="translate(465.45,733) scale(0.949,0.855)" text-anchor="middle" font-size="10.3" fill="#3c3c3c" class="xk">11</text>
<text transform="translate(479.6,733) scale(0.949,0.855)" text-anchor="middle" font-size="10.3" fill="#3c3c3c" class="xk">13</text>
<text transform="translate(493.75,733) scale(0.949,0.855)" text-anchor="middle" font-size="10.3" fill="#3c3c3c" class="xk">15</text>
<text transform="translate(507.9,733) scale(0.949,0.855)" text-anchor="middle" font-size="10.3" fill="#3c3c3c" class="xk">17</text>
<text transform="translate(522.05,733) scale(0.949,0.855)" text-anchor="middle" font-size="10.3" fill="#3c3c3c" class="xk">19</text>
<text transform="translate(536.2,733) scale(0.949,0.855)" text-anchor="middle" font-size="10.3" fill="#3c3c3c" class="xk">21</text>
<text transform="translate(550.35,733) scale(0.949,0.855)" text-anchor="middle" font-size="10.3" fill="#3c3c3c" class="xk">23</text>
<text transform="translate(564.5,733) scale(0.949,0.855)" text-anchor="middle" font-size="10.3" fill="#3c3c3c" class="xk">25</text>
<text transform="translate(578.65,733) scale(0.949,0.855)" text-anchor="middle" font-size="10.3" fill="#3c3c3c" class="xk">27</text>
<text transform="translate(592.8,733) scale(0.949,0.855)" text-anchor="middle" font-size="10.3" fill="#3c3c3c" class="xk">29</text>
<text transform="translate(372.2,611.7) rotate(-90) scale(0.855,0.949)" text-anchor="middle" font-size="7.8" font-weight="bold" fill="#1a1a1a" textLength="94.8" lengthAdjust="spacingAndGlyphs" class="yl">Proportion Level 3</text>
<g transform="translate(394.4,715.9) scale(0.9486,1.1109)">
<polyline points="7.59,-9.63 15.18,-13.23 22.56,-18.63 29.94,-46.45 37.53,-36.55 44.91,-30.97 52.29,-93.53 59.88,-21.33 67.26,-0.18 74.64,-42.4 81.91,-46.45 89.61,-0.18 96.88,-8.28 104.37,-49.15 111.96,-14.58 119.34,-48.7 126.72,-13.68 134.1,-0.18 141.79,-31.15 149.07,-20.16 156.45,-87.05" class="ln"/>
<polyline points="164.04,-20.61 171.73,-69.59 179.01,-64.18 186.39,-77.15 194.08,-62.83" class="ln"/>
<rect x="4.24" y="-12.98" width="6.7" height="6.7" class="mk"/>
<rect x="11.83" y="-16.58" width="6.7" height="6.7" class="mk"/>
<rect x="19.21" y="-21.98" width="6.7" height="6.7" class="mk"/>
<rect x="26.59" y="-49.8" width="6.7" height="6.7" class="mk"/>
<rect x="34.18" y="-39.9" width="6.7" height="6.7" class="mk"/>
<rect x="41.56" y="-34.32" width="6.7" height="6.7" class="mk"/>
<rect x="48.94" y="-96.88" width="6.7" height="6.7" class="mk"/>
<rect x="56.53" y="-24.68" width="6.7" height="6.7" class="mk"/>
<rect x="63.91" y="-3.53" width="6.7" height="6.7" class="mk"/>
<rect x="71.29" y="-45.75" width="6.7" height="6.7" class="mk"/>
<rect x="78.56" y="-49.8" width="6.7" height="6.7" class="mk"/>
<rect x="86.26" y="-3.53" width="6.7" height="6.7" class="mk"/>
<rect x="93.53" y="-11.63" width="6.7" height="6.7" class="mk"/>
<rect x="101.02" y="-52.5" width="6.7" height="6.7" class="mk"/>
<rect x="108.61" y="-17.93" width="6.7" height="6.7" class="mk"/>
<rect x="115.99" y="-52.05" width="6.7" height="6.7" class="mk"/>
<rect x="123.37" y="-17.03" width="6.7" height="6.7" class="mk"/>
<rect x="130.75" y="-3.53" width="6.7" height="6.7" class="mk"/>
<rect x="138.44" y="-34.5" width="6.7" height="6.7" class="mk"/>
<rect x="145.72" y="-23.51" width="6.7" height="6.7" class="mk"/>
<rect x="153.1" y="-90.4" width="6.7" height="6.7" class="mk"/>
<circle cx="164.04" cy="-20.61" r="3.3" class="mk"/>
<circle cx="171.73" cy="-69.59" r="3.3" class="mk"/>
<circle cx="179.01" cy="-64.18" r="3.3" class="mk"/>
<circle cx="186.39" cy="-77.15" r="3.3" class="mk"/>
<circle cx="194.08" cy="-62.83" r="3.3" class="mk"/>
<line x1="1.05" y1="-30.7" x2="160.14" y2="-30.7" class="dh"/>
<line x1="160.14" y1="-59.05" x2="213.69" y2="-59.05" class="dhb"/>
<line x1="160.14" y1="-188.23" x2="160.14" y2="0" class="dv"/>
</g>
</g>
<rect x="116" y="958.8" width="109" height="34" fill="#fff"/>
<text x="130" y="977.7" font-size="13" fill="#111" textLength="81.2" lengthAdjust="spacingAndGlyphs" class="sn">Session Number</text>
<text x="121.3" y="1020.3" font-size="18" fill="#2a2a2a" textLength="73" lengthAdjust="spacingAndGlyphs" class="sn2">Session Number</text>
<text x="469.7" y="765" font-size="14.5" fill="#111" textLength="80.7" lengthAdjust="spacingAndGlyphs" class="sn">Session Number</text>
<g id="legend">
<line x1="296.2" y1="181.7" x2="316.5" y2="181.7" stroke="#000" stroke-width="2.2"/>
<rect x="303.4" y="177.6" width="6.7" height="8.2" class="mk"/>
<text x="317.8" y="184.9" font-size="11.8" fill="#333" stroke="#333" stroke-width="0.15" textLength="36.4" lengthAdjust="spacingAndGlyphs" class="lg">A* Phase</text>
<line x1="296.2" y1="204.2" x2="316.5" y2="204.2" stroke="#000" stroke-width="2.2"/>
<ellipse cx="306.7" cy="204.2" rx="3.3" ry="4.1" class="mk"/>
<text x="317.8" y="207.3" font-size="11.8" fill="#333" stroke="#333" stroke-width="0.15" textLength="36.4" lengthAdjust="spacingAndGlyphs" class="lg">B* Phase</text>
</g>
<line x1="158" y1="1021.8" x2="195" y2="1021.8" stroke="#a8a8a8" stroke-width="0.8"/>
<text transform="translate(273.3,76.2) scale(1,0.993)" font-size="19.0" font-weight="bold" fill="#0c0c0c" stroke="#0c0c0c" stroke-width="0.35" textLength="69.3" lengthAdjust="spacingAndGlyphs" class="tt">Teacher 1</text>
<text transform="translate(276.1,333.6) scale(1,0.926)" font-size="19.0" font-weight="bold" fill="#0c0c0c" stroke="#0c0c0c" stroke-width="0.35" textLength="70.3" lengthAdjust="spacingAndGlyphs" class="tt">Teacher 2</text>
<text transform="translate(274.6,561.2) scale(1,0.897)" font-size="19.0" font-weight="bold" fill="#0c0c0c" stroke="#0c0c0c" stroke-width="0.35" textLength="70.3" lengthAdjust="spacingAndGlyphs" class="tt">Teacher 3</text>
<text transform="translate(277.5,778) scale(1,0.971)" font-size="19.0" font-weight="bold" fill="#0c0c0c" stroke="#0c0c0c" stroke-width="0.35" textLength="69.9" lengthAdjust="spacingAndGlyphs" class="tt">Teacher 4</text>
<text transform="translate(620.9,70.6) scale(1,0.956)" font-size="19.0" font-weight="bold" fill="#0c0c0c" stroke="#0c0c0c" stroke-width="0.35" textLength="69.1" lengthAdjust="spacingAndGlyphs" class="tt">Teacher 5</text>
<text transform="translate(614.3,307.5) scale(1,0.912)" font-size="19.0" font-weight="bold" fill="#0c0c0c" stroke="#0c0c0c" stroke-width="0.35" textLength="66.7" lengthAdjust="spacingAndGlyphs" class="tt">Teacher 6</text>
<text transform="translate(616.1,536.2) scale(1,0.926)" font-size="19.0" font-weight="bold" fill="#0c0c0c" stroke="#0c0c0c" stroke-width="0.35" textLength="66.4" lengthAdjust="spacingAndGlyphs" class="tt">Teacher 7</text>
</g>
</svg>
</body>
</html>
